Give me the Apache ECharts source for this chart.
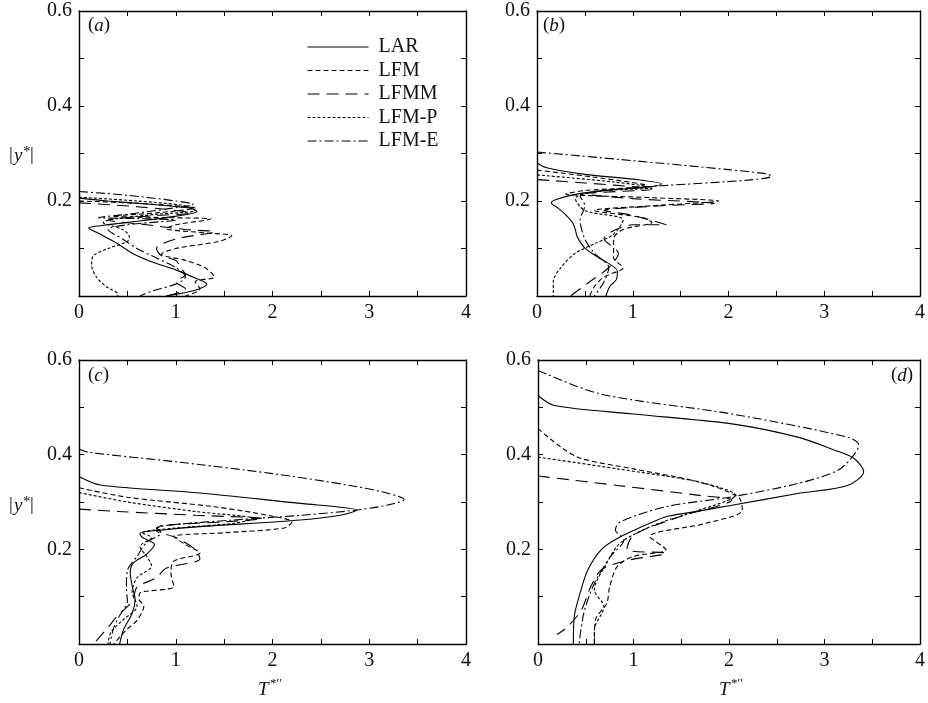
<!DOCTYPE html>
<html><head><meta charset="utf-8">
<script src="https://cdn.jsdelivr.net/npm/echarts/dist/echarts.min.js"></script>
<style>html,body{margin:0;padding:0;background:#fff}#c{width:928px;height:703px}</style>
</head><body><div id="c"></div>
<script>
const seriesNames = ['LAR', 'LFM', 'LFMM', 'LFM-P', 'LFM-E'];
const xTickLabels = ['0', '1', '2', '3', '4'];
const yTickLabels = ['0.2', '0.4', '0.6'];
const panelLetters = ['a', 'b', 'c', 'd'];

// Panel (a): [T*'', |y*|]
const a_LAR  = [[0,0.206],[0.3,0.2],[0.8,0.192],[1.15,0.185],[1.22,0.178],[0.9,0.165],[0.5,0.155],[0.22,0.148],[0.1,0.143],[0.2,0.132],[0.4,0.11],[0.55,0.09],[0.75,0.072],[1.0,0.055],[1.2,0.038],[1.32,0.025],[1.2,0.012],[0.9,0.0]];
const a_LFM  = [[0,0.2],[0.6,0.195],[1.2,0.185],[0.8,0.175],[0.35,0.168],[0.9,0.165],[1.36,0.162],[1.0,0.15],[0.9,0.142],[1.3,0.133],[1.58,0.127],[1.45,0.115],[1.0,0.1],[0.85,0.088],[1.1,0.075],[1.3,0.06],[1.4,0.04],[1.2,0.03],[1.25,0.015],[1.1,0.0]];
const a_LFMM = [[0,0.196],[0.6,0.188],[1.15,0.175],[0.7,0.168],[0.3,0.16],[0.7,0.15],[1.1,0.14],[1.4,0.135],[1.0,0.12],[0.8,0.1],[0.85,0.085],[1.0,0.075],[1.05,0.06],[1.1,0.045],[1.0,0.03],[1.1,0.015],[0.9,0.0]];
const a_LFMP = [[0,0.208],[0.6,0.2],[1.1,0.19],[1.2,0.18],[0.8,0.172],[0.4,0.163],[0.25,0.155],[0.45,0.14],[0.52,0.125],[0.5,0.115],[0.3,0.1],[0.15,0.085],[0.13,0.065],[0.18,0.04],[0.28,0.02],[0.4,0.004],[0.4,0.0]];
const a_LFME = [[0,0.22],[0.5,0.212],[1.0,0.2],[1.18,0.193],[0.9,0.183],[0.5,0.172],[0.2,0.165],[0.6,0.163],[1.0,0.16],[0.5,0.15],[0.3,0.14],[0.45,0.12],[0.6,0.1],[0.8,0.08],[1.0,0.06],[1.1,0.04],[1.0,0.025],[0.75,0.01],[0.63,0.0]];

// Panel (b)
const b_LAR  = [[0,0.28],[0.1,0.27],[0.5,0.256],[1.05,0.245],[1.3,0.236],[1.1,0.228],[0.8,0.224],[0.4,0.214],[0.2,0.203],[0.15,0.196],[0.22,0.185],[0.3,0.171],[0.37,0.155],[0.4,0.14],[0.42,0.125],[0.5,0.101],[0.65,0.08],[0.84,0.052],[0.83,0.035],[0.76,0.02],[0.72,0.0]];
const b_LFM  = [[0,0.265],[0.6,0.25],[1.15,0.232],[0.5,0.222],[0.3,0.215],[1.2,0.207],[1.9,0.2],[1.2,0.19],[0.6,0.18],[1.1,0.165],[1.2,0.155],[0.9,0.14],[0.8,0.12],[0.8,0.08],[0.9,0.06],[0.7,0.04],[0.6,0.02],[0.55,0.0]];
const b_LFMM = [[0,0.245],[0.5,0.238],[1.2,0.225],[0.5,0.215],[1.0,0.205],[1.85,0.195],[1.3,0.19],[0.7,0.18],[1.0,0.17],[1.35,0.15],[1.0,0.15],[0.7,0.12],[0.85,0.09],[0.75,0.06],[0.55,0.03],[0.35,0.0]];
const b_LFMP = [[0,0.255],[0.8,0.24],[1.2,0.228],[0.6,0.22],[0.4,0.205],[0.5,0.18],[0.9,0.16],[0.8,0.13],[0.6,0.11],[0.4,0.09],[0.25,0.06],[0.17,0.03],[0.17,0.0]];
const b_LFME = [[0,0.303],[1.0,0.285],[2.0,0.266],[2.4,0.257],[2.45,0.252],[2.2,0.244],[1.3,0.232],[0.8,0.224],[0.45,0.21],[0.5,0.19],[0.45,0.16],[0.5,0.12],[0.6,0.09],[0.75,0.06],[0.7,0.03],[0.6,0.0]];

// Panel (c)
const c_LAR  = [[0,0.354],[0.22,0.336],[1.25,0.319],[2.29,0.297],[2.75,0.288],[2.87,0.283],[2.7,0.272],[2.29,0.262],[1.25,0.248],[0.87,0.241],[0.63,0.234],[0.65,0.226],[0.78,0.21],[0.7,0.19],[0.56,0.171],[0.53,0.15],[0.55,0.122],[0.58,0.094],[0.55,0.065],[0.46,0.03],[0.42,0.0]];
const c_LFM  = [[0,0.33],[0.5,0.31],[1.4,0.29],[2.0,0.27],[2.2,0.258],[2.12,0.245],[1.5,0.235],[0.98,0.227],[1.1,0.21],[1.25,0.192],[0.98,0.175],[0.95,0.15],[0.98,0.122],[0.63,0.108],[0.62,0.095],[0.67,0.08],[0.6,0.05],[0.49,0.03],[0.36,0.0]];
const c_LFMM = [[0,0.285],[0.4,0.28],[1.2,0.272],[1.9,0.265],[1.5,0.258],[0.85,0.25],[0.8,0.24],[1.0,0.225],[1.2,0.2],[1.25,0.18],[0.9,0.16],[0.8,0.14],[0.6,0.12],[0.55,0.09],[0.4,0.06],[0.3,0.035],[0.15,0.0]];
const c_LFMP = [[0,0.32],[0.5,0.3],[1.2,0.28],[1.8,0.265],[1.6,0.255],[1.0,0.245],[0.65,0.235],[0.75,0.225],[0.63,0.206],[0.7,0.185],[0.75,0.165],[0.6,0.14],[0.55,0.11],[0.6,0.08],[0.45,0.05],[0.33,0.025],[0.3,0.0]];
const c_LFME = [[0,0.412],[0.1,0.405],[1.0,0.385],[2.0,0.36],[2.8,0.335],[3.2,0.318],[3.36,0.305],[3.2,0.294],[2.87,0.283],[2.3,0.272],[1.6,0.262],[0.98,0.252],[0.8,0.245],[0.85,0.235],[0.7,0.215],[0.6,0.185],[0.5,0.155],[0.49,0.12],[0.5,0.09],[0.42,0.06],[0.36,0.035],[0.32,0.0]];

// Panel (d)
const d_LAR  = [[0,0.525],[0.17,0.504],[1.0,0.486],[2.03,0.465],[2.72,0.437],[3.1,0.41],[3.31,0.392],[3.41,0.364],[3.24,0.335],[2.72,0.318],[2.03,0.293],[1.6,0.278],[1.34,0.269],[1.17,0.255],[0.83,0.223],[0.66,0.199],[0.52,0.156],[0.45,0.114],[0.38,0.058],[0.37,0.0]];
const d_LFM  = [[0,0.455],[0.24,0.416],[0.45,0.392],[1.0,0.37],[1.69,0.342],[2.1,0.31],[2.14,0.283],[1.76,0.255],[1.17,0.227],[1.34,0.199],[1.0,0.185],[0.83,0.164],[0.75,0.12],[0.72,0.086],[0.6,0.05],[0.59,0.0]];
const d_LFMM = [[0,0.355],[0.83,0.335],[1.69,0.314],[2.03,0.304],[1.5,0.27],[1.0,0.23],[0.93,0.2],[1.34,0.192],[0.9,0.175],[0.66,0.156],[0.55,0.12],[0.45,0.07],[0.3,0.035],[0.2,0.02]];
const d_LFMP = [[0,0.395],[0.83,0.37],[1.69,0.342],[2.07,0.314],[1.69,0.283],[1.2,0.25],[0.86,0.213],[0.72,0.171],[0.59,0.114],[0.69,0.079],[0.59,0.03],[0.59,0.0]];
const d_LFME = [[0,0.578],[0.66,0.528],[2.03,0.486],[3.24,0.437],[3.36,0.42],[3.29,0.395],[3.14,0.367],[2.72,0.339],[2.03,0.311],[1.34,0.29],[0.86,0.258],[0.81,0.241],[0.9,0.22],[0.76,0.185],[0.59,0.128],[0.48,0.065],[0.43,0.0]];

const panels = [
  [a_LAR, a_LFM, a_LFMM, a_LFMP, a_LFME],
  [b_LAR, b_LFM, b_LFMM, b_LFMP, b_LFME],
  [c_LAR, c_LFM, c_LFMM, c_LFMP, c_LFME],
  [d_LAR, d_LFM, d_LFMM, d_LFMP, d_LFME]
];

const dashes = ['solid', [5, 3], [12, 7], [3, 2], [9, 3, 2, 3]];
const FONT = 'Liberation Serif';
const gridPos = [
  {left: 79, top: 11, width: 387, height: 285},
  {left: 537, top: 11, width: 387, height: 285},
  {left: 79, top: 360, width: 387, height: 284},
  {left: 538, top: 360, width: 387, height: 284}
];

const axisLine = {show: true, onZero: false, lineStyle: {color: '#000', width: 1.4}};
const tick = {show: true, inside: true, length: 5, lineStyle: {color: '#000', width: 1}};
const labelStyle = {fontFamily: FONT, fontSize: 20, color: '#111'};

const xAxes = [], yAxes = [], series = [];
gridPos.forEach((g, i) => {
  ['bottom', 'top'].forEach(pos => {
    xAxes.push({
      type: 'value', gridIndex: i, position: pos, min: 0, max: 4, interval: 0.5,
      axisLine, axisTick: tick, splitLine: {show: false},
      axisLabel: Object.assign({
        show: pos === 'bottom', margin: 7,
        formatter: v => (Math.abs(v - Math.round(v)) < 1e-6 ? xTickLabels[Math.round(v)] : '')
      }, labelStyle)
    });
  });
  ['left', 'right'].forEach(pos => {
    yAxes.push({
      type: 'value', gridIndex: i, position: pos, min: 0, max: 0.6, interval: 0.1,
      axisLine, axisTick: tick, splitLine: {show: false},
      axisLabel: Object.assign({
        show: pos === 'left', margin: 7,
        formatter: v => { const k = Math.round(v * 10); return (k > 0 && k % 2 === 0) ? yTickLabels[k / 2 - 1] : ''; }
      }, labelStyle)
    });
  });
  panels[i].forEach((data, s) => {
    series.push({
      type: 'line', name: seriesNames[s], xAxisIndex: 2 * i, yAxisIndex: 2 * i,
      data: data, showSymbol: false, symbol: 'none', smooth: 0.3, silent: true,
      itemStyle: {color: '#000'},
      lineStyle: {color: '#000', width: 1.1, type: dashes[s]}
    });
  });
});

const txt = (left, top, text, italic, size) => ({
  type: 'text', left, top,
  style: {text, fontFamily: FONT, fontSize: size || 19, fontStyle: italic ? 'italic' : 'normal', fill: '#111'}
});

const panelLabelPos = [[88, 16], [543, 16], [88, 366], [891, 366]];
const graphics = [];
panelLetters.forEach((l, i) => {
  const [x, y] = panelLabelPos[i];
  graphics.push({
    type: 'text', left: x, top: y,
    style: {
      text: '{n|(}{i|' + l + '}{n|)}',
      rich: {
        n: {fontFamily: FONT, fontSize: 19, fill: '#111'},
        i: {fontFamily: FONT, fontSize: 19, fontStyle: 'italic', fill: '#111'}
      }
    }
  });
});
[[146], [496]].forEach(([y]) => {
  graphics.push(txt(9, y, '|', false));
  graphics.push(txt(14, y, 'y', true));
  graphics.push(txt(23, y - 1, '*', false, 15));
  graphics.push(txt(30, y, '|', false));
});
[[258], [719]].forEach(([x]) => {
  graphics.push(txt(x, 680, 'T', true));
  graphics.push(txt(x + 12, 677, '*\u2032\u2032', false, 13));
});

const chart = echarts.init(document.getElementById('c'), null, {renderer: 'canvas'});
chart.setOption({
  animation: false,
  backgroundColor: '#fff',
  grid: gridPos.map(g => Object.assign({containLabel: false}, g)),
  xAxis: xAxes,
  yAxis: yAxes,
  legend: {
    data: seriesNames, orient: 'vertical', left: 307, top: 37, padding: 0,
    itemWidth: 61, itemHeight: 14, itemGap: 3.5, selectedMode: false,
    itemStyle: {opacity: 0, borderWidth: 0},
    lineStyle: {width: 1.1, color: '#000'},
    textStyle: {fontFamily: FONT, fontSize: 20, color: '#111', padding: [0, 0, 0, 5]}
  },
  series,
  graphic: graphics
});
</script>
</body></html>
